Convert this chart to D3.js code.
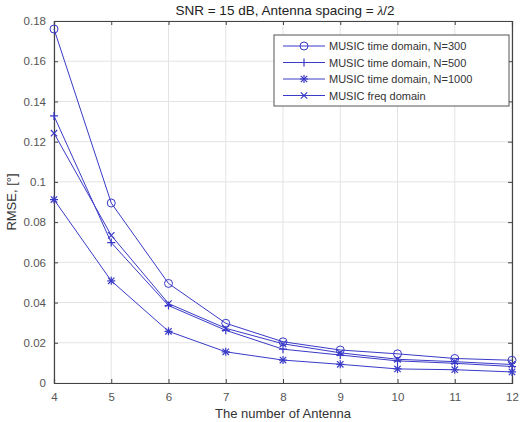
<!DOCTYPE html>
<html>
<head>
<meta charset="utf-8">
<script src="https://cdn.jsdelivr.net/npm/d3@7"></script>
<style>
  body { margin: 0; background: #fff; }
  svg { display: block; font-family: "Liberation Sans", Arial, sans-serif; }
</style>
</head>
<body>
<div id="chart"></div>
<script>
// Number of antennas (x axis)
const antennas = [4, 5, 6, 7, 8, 9, 10, 11, 12];

// RMSE values
const music300 = [0.176, 0.0895, 0.0495, 0.0297, 0.0205, 0.0164, 0.0145, 0.0122, 0.0113];
const music500 = [0.1328, 0.0698, 0.0385, 0.0262, 0.0168, 0.0139, 0.0110, 0.0098, 0.0082];
const music1000 = [0.0912, 0.0508, 0.0257, 0.0155, 0.0114, 0.0093, 0.0070, 0.0066, 0.0055];
const musicFreq = [0.1242, 0.0734, 0.0395, 0.0272, 0.0195, 0.0150, 0.0118, 0.0106, 0.0092];

const yTicks = [0, 0.02, 0.04, 0.06, 0.08, 0.1, 0.12, 0.14, 0.16, 0.18];
const xTicks = antennas;

const series = [
  { name: 'MUSIC time domain, N=300', values: music300, marker: 'circle' },
  { name: 'MUSIC time domain, N=500', values: music500, marker: 'plus' },
  { name: 'MUSIC time domain, N=1000', values: music1000, marker: 'star' },
  { name: 'MUSIC freq domain', values: musicFreq, marker: 'cross' }
];

const width = 520, height = 422;
const margin = { top: 21, right: 8, bottom: 39, left: 54 };
const lineColor = '#3a3ac8';

const svg = d3.select('#chart').append('svg')
  .attr('width', width)
  .attr('height', height);

const x = d3.scaleLinear().domain([4, 12]).range([margin.left, width - margin.right]);
const y = d3.scaleLinear().domain([0, 0.18]).range([height - margin.bottom, margin.top]);

// grid
const grid = svg.append('g').attr('stroke', '#e3e3e3').attr('stroke-width', 1);
grid.selectAll('.gx').data(xTicks).join('line')
  .attr('x1', d => x(d)).attr('x2', d => x(d))
  .attr('y1', y(0)).attr('y2', y(0.18));
grid.selectAll('.gy').data(yTicks).join('line')
  .attr('x1', x(4)).attr('x2', x(12))
  .attr('y1', d => y(d)).attr('y2', d => y(d));

// axes (ticks pointing inward, like matlab)
const axisColor = '#444';
const xAxis = svg.append('g')
  .attr('transform', `translate(0,${y(0)})`)
  .call(d3.axisBottom(x).tickValues(xTicks).tickSize(-4).tickPadding(10).tickFormat(d3.format('d')));
const xAxisTop = svg.append('g')
  .attr('transform', `translate(0,${y(0.18)})`)
  .call(d3.axisTop(x).tickValues(xTicks).tickSize(-4).tickFormat(''));
const yAxis = svg.append('g')
  .attr('transform', `translate(${x(4)},0)`)
  .call(d3.axisLeft(y).tickValues(yTicks).tickSize(-4).tickPadding(8).tickFormat(d => d === 0 ? '0' : d3.format('')(+d.toFixed(2))));
const yAxisRight = svg.append('g')
  .attr('transform', `translate(${x(12)},0)`)
  .call(d3.axisRight(y).tickValues(yTicks).tickSize(-4).tickFormat(''));

[xAxis, xAxisTop, yAxis, yAxisRight].forEach(a => {
  a.select('.domain').attr('stroke', axisColor).attr('stroke-width', 1.2);
  a.selectAll('.tick line').attr('stroke', axisColor);
  a.selectAll('.tick text').attr('fill', '#555').attr('font-size', 11.5)
    .attr('font-family', '"Liberation Sans", Arial, sans-serif');
});

// lines
const line = d3.line().x((d, i) => x(antennas[i])).y(d => y(d));

function drawMarker(g, type, cx, cy) {
  const s = 4;
  if (type === 'circle') {
    g.append('circle').attr('cx', cx).attr('cy', cy).attr('r', s)
      .attr('fill', 'none').attr('stroke', lineColor).attr('stroke-width', 1);
  }
  if (type === 'plus' || type === 'star') {
    g.append('path').attr('d', `M${cx - s},${cy}H${cx + s}M${cx},${cy - s}V${cy + s}`)
      .attr('stroke', lineColor).attr('stroke-width', 1.2);
  }
  if (type === 'cross' || type === 'star') {
    const t = s * 0.8;
    g.append('path').attr('d', `M${cx - t},${cy - t}L${cx + t},${cy + t}M${cx - t},${cy + t}L${cx + t},${cy - t}`)
      .attr('stroke', lineColor).attr('stroke-width', 1.2);
  }
}

const plot = svg.append('g');
series.forEach(s => {
  plot.append('path')
    .datum(s.values)
    .attr('d', line)
    .attr('fill', 'none')
    .attr('stroke', lineColor)
    .attr('stroke-width', 1);
  const mg = plot.append('g');
  s.values.forEach((v, i) => drawMarker(mg, s.marker, x(antennas[i]), y(v)));
});

// legend
const legend = svg.append('g').attr('transform', 'translate(274,35)');
legend.append('rect')
  .attr('width', 235).attr('height', 71)
  .attr('fill', '#fff').attr('stroke', '#555').attr('stroke-width', 1);
series.forEach((s, i) => {
  const ly = 11 + i * 16.5;
  const item = legend.append('g');
  item.append('line').attr('x1', 9).attr('x2', 51).attr('y1', ly).attr('y2', ly)
    .attr('stroke', lineColor).attr('stroke-width', 1);
  drawMarker(item, s.marker, 30, ly);
  item.append('text').attr('x', 55).attr('y', ly + 4)
    .attr('font-size', 11).attr('fill', '#333').text(s.name);
});

// title
const title = svg.append('text')
  .attr('x', (x(4) + x(12)) / 2 + 2).attr('y', 15)
  .attr('text-anchor', 'middle').attr('font-size', 13.5).attr('fill', '#222');
title.append('tspan').text('SNR = 15 dB, Antenna spacing = ');
title.append('tspan').attr('font-family', '"Liberation Serif", "Times New Roman", serif')
  .attr('font-style', 'italic').text('λ');
title.append('tspan').text('/2');

// axis labels
svg.append('text')
  .attr('x', (x(4) + x(12)) / 2).attr('y', 418)
  .attr('text-anchor', 'middle').attr('font-size', 13).attr('fill', '#333')
  .text('The number of Antenna');
svg.append('text')
  .attr('transform', `translate(16,${(y(0) + y(0.18)) / 2}) rotate(-90)`)
  .attr('text-anchor', 'middle').attr('font-size', 13).attr('fill', '#333')
  .text('RMSE, [°]');
</script>
</body>
</html>
